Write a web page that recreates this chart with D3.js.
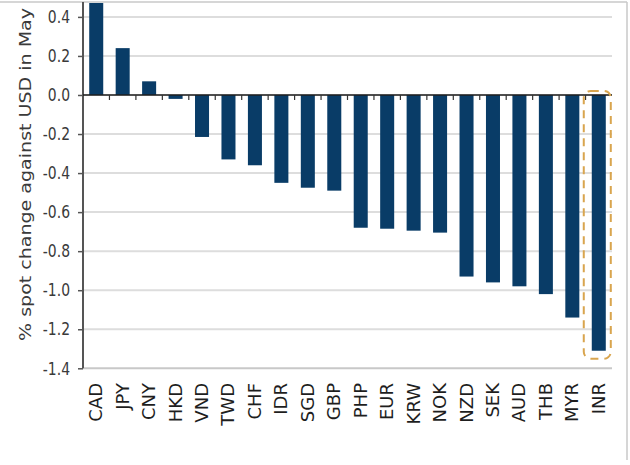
<!DOCTYPE html>
<html>
<head>
<meta charset="utf-8">
<script src="https://cdn.jsdelivr.net/npm/d3@7"></script>
<style>
  body { margin: 0; background: #fff; }
  svg { display: block; }
</style>
</head>
<body>
<div id="figure"></div>
<script>
// currencies, sorted as in the chart
var currencies = ["CAD", "JPY", "CNY", "HKD", "VND", "TWD", "CHF", "IDR", "SGD", "GBP",
    "PHP", "EUR", "KRW", "NOK", "NZD", "SEK", "AUD", "THB", "MYR", "INR"];
// % spot change against USD in May (CAD runs off the top of the chart)
var changes = [0.49, 0.24, 0.07, -0.02, -0.215, -0.33, -0.36, -0.45, -0.475, -0.49,
    -0.68, -0.685, -0.695, -0.705, -0.93, -0.96, -0.98, -1.02, -1.14, -1.31];
var yTicks = [-1.4, -1.2, -1.0, -0.8, -0.6, -0.4, -0.2, 0.0, 0.2, 0.4];
var highlighted = "INR";

var W = 630, H = 465;
var plotLeft = 83, plotRight = 612, plotTop = 2, plotBottom = 368.3;

var svg = d3.select("#figure")
    .append("svg")
    .attr("width", W)
    .attr("height", H);

// frame of the pasted picture
svg.append("line")
    .attr("x1", 0).attr("x2", 627).attr("y1", 2).attr("y2", 2)
    .attr("stroke", "#c9c9c9").attr("stroke-width", 1.5);
svg.append("line")
    .attr("x1", 627).attr("x2", 627).attr("y1", 2).attr("y2", 460)
    .attr("stroke", "#c9c9c9").attr("stroke-width", 1.5);

var x = d3.scaleBand()
    .domain(currencies)
    .range([plotLeft, plotRight])
    .paddingInner(0.47)
    .paddingOuter(0.235);

var y = d3.scaleLinear()
    .domain([-1.4, 0.4763])
    .range([plotBottom, plotTop]);

// grid lines
svg.append("g")
    .selectAll("line")
    .data(yTicks)
    .join("line")
    .attr("x1", plotLeft)
    .attr("x2", plotRight)
    .attr("y1", d => y(d))
    .attr("y2", d => y(d))
    .attr("stroke", d => d === -1.4 ? "#c8c8c8" : "#dddddd")
    .attr("stroke-width", 2);

svg.append("clipPath")
    .attr("id", "plot")
    .append("rect")
    .attr("x", plotLeft).attr("y", plotTop + 1)
    .attr("width", plotRight - plotLeft).attr("height", plotBottom - plotTop);

// bars
svg.append("g")
    .attr("clip-path", "url(#plot)")
    .selectAll("rect")
    .data(currencies)
    .join("rect")
    .attr("x", d => x(d))
    .attr("width", x.bandwidth())
    .attr("y", (d, i) => y(Math.max(0, changes[i])))
    .attr("height", (d, i) => Math.abs(y(changes[i]) - y(0)))
    .attr("fill", "#093c67");

// y axis
var yAxis = svg.append("g")
    .attr("transform", `translate(${plotLeft},0)`)
    .call(d3.axisLeft(y)
        .tickValues(yTicks)
        .tickSize(5)
        .tickPadding(8)
        .tickFormat(d => d3.format(".1f")(d).replace("−", "-")));
yAxis.select(".domain").remove();
yAxis.selectAll(".tick line").attr("stroke", "#555").attr("stroke-width", 1.5);
yAxis.selectAll("text")
    .attr("fill", "#3a3a3a")
    .attr("transform", "scale(1,1.15)")
    .style("font-family", "'DejaVu Sans Condensed', 'DejaVu Sans', sans-serif")
    .style("font-size", "15.5px");
svg.append("line")
    .attr("x1", plotLeft).attr("x2", plotLeft).attr("y1", plotTop).attr("y2", plotBottom)
    .attr("stroke", "#555").attr("stroke-width", 2);

// zero line with category ticks
svg.append("line")
    .attr("x1", plotLeft).attr("x2", plotRight).attr("y1", y(0)).attr("y2", y(0))
    .attr("stroke", "#1e1e1e").attr("stroke-width", 1.5);
svg.append("g")
    .selectAll("line")
    .data(currencies.slice(1))
    .join("line")
    .attr("x1", d => x(d) - x.step() * x.paddingInner() / 2)
    .attr("x2", d => x(d) - x.step() * x.paddingInner() / 2)
    .attr("y1", y(0))
    .attr("y2", y(0) + 5)
    .attr("stroke", "#333")
    .attr("stroke-width", 1.2);

// category labels
svg.append("g")
    .selectAll("text")
    .data(currencies)
    .join("text")
    .attr("transform", d => `translate(${x(d) + x.bandwidth() / 2 + 6},383) rotate(-90)`)
    .attr("text-anchor", "end")
    .attr("fill", "#1e1e1e")
    .style("font-family", "'DejaVu Sans', sans-serif")
    .style("font-size", "18px")
    .text(d => d);

// y axis title
svg.append("text")
    .attr("transform", "translate(31,341) scale(1,1.19) rotate(-90)")
    .attr("fill", "#3a3a3a")
    .style("font-family", "'DejaVu Sans', sans-serif")
    .style("font-size", "16px")
    .text("% spot change against USD in May");

// dashed box around the highlighted currency
var hb = x(highlighted);
svg.append("rect")
    .attr("x", hb - 8)
    .attr("y", y(0) - 4)
    .attr("width", x.bandwidth() + 13)
    .attr("height", y(changes[currencies.indexOf(highlighted)]) - y(0) + 12)
    .attr("rx", 7)
    .attr("fill", "none")
    .attr("stroke", "#d9a54e")
    .attr("stroke-width", 2)
    .attr("stroke-dasharray", "8,6");
</script>
</body>
</html>
